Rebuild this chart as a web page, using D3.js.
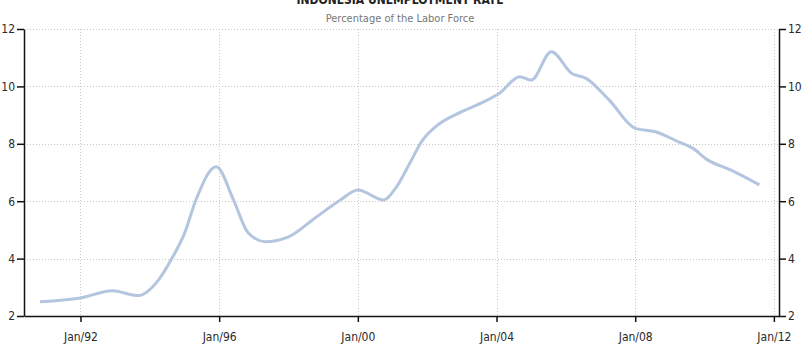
<!DOCTYPE html>
<html>
<head>
<meta charset="utf-8">
<script src="https://cdn.jsdelivr.net/npm/d3@7"></script>
<style>
  body { margin: 0; background: #fff; }
  svg { display: block; }
  .tick text { font-family: "DejaVu Sans Condensed", "DejaVu Sans", sans-serif; font-size: 12px; fill: #2a2a2a; }
</style>
</head>
<body>
<script>
//-----------------Data----------------

const dates = ["1990-11", "1992-01", "1992-12", "1993-09", "1994-04", "1994-09", "1995-01", "1995-05",
  "1995-12", "1996-06", "1996-11", "1997-05", "1998-01", "1998-10", "1999-07", "2000-01",
  "2000-10", "2001-02", "2001-07", "2001-11", "2002-04", "2003-01", "2003-10", "2004-02",
  "2004-09", "2005-01", "2005-08", "2006-03", "2006-08", "2007-04", "2008-01", "2008-08",
  "2009-04", "2009-09", "2010-02", "2010-10", "2011-08"];
const rates = [2.5, 2.63, 2.88, 2.71, 3.25, 4.07, 4.88, 6.04,
  7.2, 6.04, 4.9, 4.59, 4.76, 5.4, 6.04, 6.39,
  6.04, 6.45, 7.32, 8.07, 8.6, 9.12, 9.53, 9.76,
  10.34, 10.22, 11.21, 10.46, 10.28, 9.53, 8.54, 8.42,
  8.07, 7.84, 7.44, 7.09, 6.57];
const xTickLabels = ["Jan/92", "Jan/96", "Jan/00", "Jan/04", "Jan/08", "Jan/12"];
const yTicks = [2, 4, 6, 8, 10, 12];

const parse = d3.timeParse("%Y-%m");
const data = dates.map((d, i) => ({ date: parse(d), value: rates[i] }));

//-----------------Svg----------------

const width = 804;
const height = 348;
const mLeft = 24, mRight = 779, mTop = 29, mBottom = 316;

const svg = d3.select("body").append("svg").attr("width", width).attr("height", height);

const x = d3.scaleTime()
  .domain([new Date(1990, 4, 16), new Date(2012, 1, 24)])
  .range([mLeft, mRight]);
const y = d3.scaleLinear().domain([2, 12]).range([mBottom, mTop]);

const tickDates = xTickLabels.map((t) => {
  const yy = +t.slice(4);
  return new Date(yy < 50 ? 2000 + yy : 1900 + yy, 0, 1);
});

//-----------------Grid----------------

svg.append("g")
  .selectAll("line")
  .data(yTicks.slice(1))
  .enter()
  .append("line")
  .attr("x1", mLeft).attr("x2", mRight)
  .attr("y1", (d) => Math.round(y(d)) + 0.5).attr("y2", (d) => Math.round(y(d)) + 0.5)
  .attr("stroke", "#c8c8c8").attr("stroke-dasharray", "1,2");

svg.append("g")
  .selectAll("line")
  .data(tickDates)
  .enter()
  .append("line")
  .attr("x1", (d) => Math.round(x(d)) + 0.5).attr("x2", (d) => Math.round(x(d)) + 0.5)
  .attr("y1", mTop).attr("y2", mBottom)
  .attr("stroke", "#c8c8c8").attr("stroke-dasharray", "1,2");

//-----------------Line----------------

svg.append("path")
  .datum(data)
  .attr("fill", "none")
  .attr("stroke", "#b3c5df")
  .attr("stroke-width", 3)
  .attr("stroke-linejoin", "round")
  .attr("d", d3.line().x((d) => x(d.date)).y((d) => y(d.value)).curve(d3.curveMonotoneX));

//-----------------Axes----------------

const xAxis = d3.axisBottom(x)
  .tickValues(tickDates)
  .tickFormat((d, i) => xTickLabels[i])
  .tickSize(6)
  .tickSizeOuter(0);
svg.append("g")
  .attr("transform", `translate(0,${mBottom})`)
  .call(xAxis)
  .call((g) => g.selectAll("text").attr("dy", "1.3em"));

svg.append("g")
  .attr("transform", `translate(${mLeft},0)`)
  .call(d3.axisLeft(y).tickValues(yTicks).tickSize(7).tickSizeOuter(0).tickPadding(2));

svg.append("g")
  .attr("transform", `translate(${mRight},0)`)
  .call(d3.axisRight(y).tickValues(yTicks).tickSize(7).tickSizeOuter(0).tickPadding(2));

svg.selectAll(".domain, .tick line").attr("stroke", "#111").attr("stroke-width", 1.5);

//-----------------Header----------------

// title sits partly above the top edge, as in the source image
svg.append("text")
  .text("INDONESIA UNEMPLOYMENT RATE")
  .attr("x", 400).attr("y", 4)
  .attr("text-anchor", "middle")
  .style("font-family", "'DejaVu Sans Condensed', sans-serif")
  .style("font-weight", "bold")
  .style("font-size", "12px")
  .style("fill", "#222");

svg.append("text")
  .text("Percentage of the Labor Force")
  .attr("x", 400).attr("y", 22)
  .attr("text-anchor", "middle")
  .style("font-family", "'DejaVu Sans Condensed', sans-serif")
  .style("font-size", "11px")
  .style("fill", "#777");
</script>
</body>
</html>
